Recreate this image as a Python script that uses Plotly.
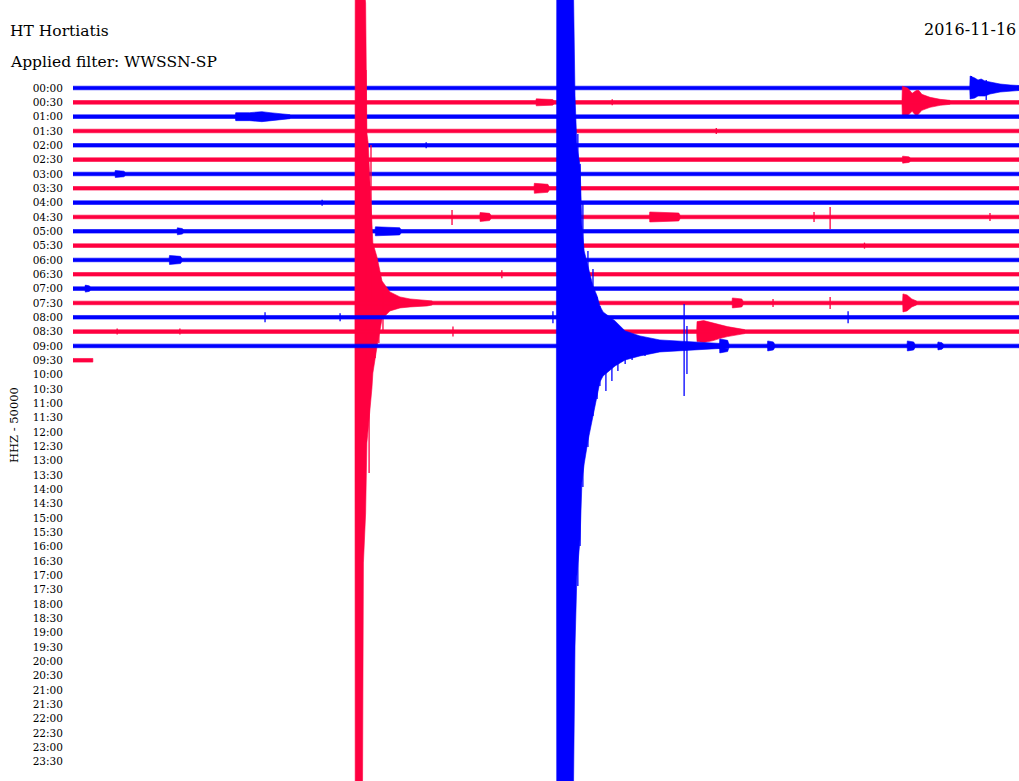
import plotly.graph_objects as go

# ---------------- data ----------------
ROW_LABELS = ["00:00", "00:30", "01:00", "01:30", "02:00", "02:30", "03:00", "03:30",
              "04:00", "04:30", "05:00", "05:30", "06:00", "06:30", "07:00", "07:30",
              "08:00", "08:30", "09:00", "09:30", "10:00", "10:30", "11:00", "11:30",
              "12:00", "12:30", "13:00", "13:30", "14:00", "14:30", "15:00", "15:30",
              "16:00", "16:30", "17:00", "17:30", "18:00", "18:30", "19:00", "19:30",
              "20:00", "20:30", "21:00", "21:30", "22:00", "22:30", "23:00", "23:30"]

# minutes of data recorded in each 30-minute line (00:00 ... 09:30)
ROW_END_MIN = [30, 30, 30, 30, 30, 30, 30, 30, 30, 30,
               30, 30, 30, 30, 30, 30, 30, 30, 30, 0.63]

# big event 1 (line 07:30): envelope time (min), upper / lower amplitude
QUAKE1_ROW = 15
QUAKE1_T = [8.94, 8.95, 9.18, 9.21, 9.28, 9.32, 9.36, 9.42, 9.48, 9.51, 9.64, 9.80,
            10.05, 10.37, 10.69, 11.23, 11.39]
QUAKE1_UP = [2, 330, 330, 320, 300, 170, 160, 120, 75, 60, 46, 22, 11, 6, 4, 3, 2]
QUAKE1_DN = [2, 500, 500, 260, 210, 140, 124, 107, 85, 70, 44, 16, 8, 5, 4, 3, 2]

# big event 2 (line 09:00)
QUAKE2_ROW = 18
QUAKE2_T = [15.33, 15.34, 15.87, 15.92, 15.98, 16.08, 16.14, 16.21, 16.33, 16.49,
            16.62, 16.71, 16.81, 17.19, 17.51, 17.98, 18.61, 19.57, 20.52, 20.80]
QUAKE2_UP = [2, 360, 360, 250, 200, 180, 120, 95, 80, 60, 50, 40, 34, 25, 15, 10, 6, 4, 2.5, 2]
QUAKE2_DN = [2, 450, 450, 300, 230, 193, 136, 118, 95, 70, 50, 36, 30, 20, 14, 10, 6, 4, 2.5, 2]

# local events with a shaped envelope: (line, times, upper, lower)
EVENT_ROWS = [0, 1, 2, 15, 17]
EVENT_T = [
    [28.44, 28.45, 28.60, 28.70, 28.80, 28.92, 29.08, 29.40, 29.72, 30.0],
    [26.29, 26.30, 26.40, 26.48, 26.61, 26.75, 26.82, 26.92, 27.18, 27.50, 27.81],
    [5.15, 5.16, 5.60, 5.99, 6.25, 6.72, 6.88],
    [26.31, 26.32, 26.45, 26.60, 26.75],
    [19.78, 19.79, 20.00, 20.30, 20.50, 20.75, 21.10, 21.30],
]
EVENT_UP = [
    [2, 12, 10, 8, 9, 7, 6, 4, 3, 2.5],
    [2, 16, 15, 14, 9, 12, 12, 8, 5, 3, 2],
    [2, 4, 4, 5, 4, 2.5, 2],
    [2, 9, 8, 4, 2],
    [2, 10, 11, 9, 7, 5, 3, 2],
]
EVENT_DN = [
    [2, 11, 10, 8, 8, 8, 6, 4, 3, 2.5],
    [2, 15, 14, 13, 9, 14, 12, 8, 5, 3, 2],
    [2, 4, 4, 5, 4, 2.5, 2],
    [2, 9, 8, 4, 2],
    [2, 10, 11, 9, 7, 5, 3, 2],
]

# small bursts: line, start (min), end (min), amplitude
BURST_ROW = [1, 5, 6, 7, 9, 9, 10, 10, 12, 14, 15, 18, 18, 18, 18]
BURST_T0 = [14.68, 26.30, 1.33, 14.62, 12.90, 18.28, 9.58, 3.30, 3.05, 0.38, 20.90, 20.50, 22.02, 26.45, 27.42]
BURST_T1 = [15.25, 26.55, 1.65, 15.10, 13.25, 19.25, 10.40, 3.50, 3.45, 0.55, 21.25, 20.80, 22.25, 26.70, 27.60]
BURST_AMP = [3.5, 3.5, 3.5, 5, 4.5, 5, 4.5, 3.5, 4.5, 3.5, 5, 7, 5, 5, 4]

# single spikes: line, time (min), up, down
SPIKE_ROW = [15, 15, 15, 15, 15, 15,
             18, 18, 18, 18, 18, 18, 18, 18, 18,
             18, 18, 18, 18, 18, 18, 18,
             9, 9, 9, 9, 13, 15, 15, 16, 16, 16, 16, 17, 17, 17, 0, 0, 1, 3, 4, 8, 11]
SPIKE_T = [9.29, 9.45, 9.39, 9.83, 9.58, 9.70,
           16.01, 16.08, 16.17, 16.33, 16.49, 16.62, 16.71, 19.38, 19.47,
           16.90, 17.09, 17.28, 17.51, 17.73, 18.14, 18.45,
           12.02, 23.50, 24.01, 29.08, 13.60, 22.20, 24.01, 15.22, 6.09, 8.47, 24.58,
           12.05, 1.40, 3.39, 28.49, 28.96, 17.10, 20.40, 11.20, 7.90, 25.10]
SPIKE_UP = [233, 158, 60, 10, 20, 15,
            212, 182, 142, 95, 77, 49, 40, 42, 20,
            28, 20, 18, 12, 10, 8, 6,
            7, 5, 10, 4, 4, 4, 6, 6, 5, 4, 6, 5, 3, 3, 12, 8, 3, 3, 3, 3, 3]
SPIKE_DN = [60, 20, 170, 30, 55, 40,
            240, 200, 141, 101, 70, 53, 40, 50, 28,
            45, 35, 25, 18, 14, 10, 7,
            8, 5, 12, 4, 4, 4, 6, 6, 5, 4, 6, 5, 3, 3, 8, 12, 3, 3, 3, 3, 3]

BLUE = "#0000ff"
RED = "#ff0040"
SCALE = 1 / 14.33      # line spacing units per amplitude unit
BASE_AMP = 1.8         # background noise half-width

# ---------------- build ----------------
def poly(row, t, up, dn):
    xs = list(t) + list(reversed(t)) + [t[0], None]
    ys = [row - u * SCALE for u in up] + [row + d * SCALE for d in reversed(dn)] + [row - up[0] * SCALE, None]
    return xs, ys

fig = go.Figure()
n_rows = len(ROW_END_MIN)
for r in range(n_rows):
    color = BLUE if r % 2 == 0 else RED
    end = ROW_END_MIN[r]
    xs, ys = poly(r, [0, end], [BASE_AMP, BASE_AMP], [BASE_AMP, BASE_AMP])
    if r == QUAKE1_ROW:
        a, b = poly(r, QUAKE1_T, QUAKE1_UP, QUAKE1_DN); xs += a; ys += b
    if r == QUAKE2_ROW:
        a, b = poly(r, QUAKE2_T, QUAKE2_UP, QUAKE2_DN); xs += a; ys += b
    for k, er in enumerate(EVENT_ROWS):
        if er == r:
            a, b = poly(r, EVENT_T[k], EVENT_UP[k], EVENT_DN[k]); xs += a; ys += b
    for k, br in enumerate(BURST_ROW):
        if br == r:
            t0, t1, amp = BURST_T0[k], BURST_T1[k], BURST_AMP[k]
            a, b = poly(r, [t0, t0 + 0.01, t1 - 0.04, t1],
                        [BASE_AMP, amp, 0.8 * amp, BASE_AMP],
                        [BASE_AMP, amp, 0.8 * amp, BASE_AMP])
            xs += a; ys += b
    fig.add_trace(go.Scatter(x=xs, y=ys, mode="lines", fill="toself", fillcolor=color,
                             line=dict(color=color, width=0.6), hoverinfo="skip"))
    sx, sy = [], []
    for k, sr in enumerate(SPIKE_ROW):
        if sr == r:
            sx += [SPIKE_T[k], SPIKE_T[k], None]
            sy += [r - SPIKE_UP[k] * SCALE, r + SPIKE_DN[k] * SCALE, None]
    if sx:
        fig.add_trace(go.Scatter(x=sx, y=sy, mode="lines", line=dict(color=color, width=1.3),
                                 hoverinfo="skip"))

W, H, L = 1019, 781, 73
def px(x):
    return (x - L) / (W - L)
def py(y):
    return 1 - y / H

fig.update_layout(
    width=W, height=H,
    margin=dict(l=L, r=0, t=0, b=0),
    paper_bgcolor="white", plot_bgcolor="white",
    showlegend=False,
    xaxis=dict(range=[0, 30], visible=False),
    yaxis=dict(range=[48.36, -6.141], tickmode="array", tickvals=list(range(len(ROW_LABELS))),
               ticktext=ROW_LABELS, showgrid=False, zeroline=False, showline=False,
               ticks="outside", ticklen=7, tickcolor="rgba(0,0,0,0)",
               tickfont=dict(family="DejaVu Serif", size=10.5, color="black")),
    annotations=[
        dict(text="HT Hortiatis", xref="paper", yref="paper", x=px(8), y=py(31),
             xanchor="left", yanchor="middle", showarrow=False,
             font=dict(family="DejaVu Serif", size=15.5, color="black")),
        dict(text="Applied filter: WWSSN-SP", xref="paper", yref="paper", x=px(8), y=py(62),
             xanchor="left", yanchor="middle", showarrow=False,
             font=dict(family="DejaVu Serif", size=15.5, color="black")),
        dict(text="2016-11-16", xref="paper", yref="paper", x=px(1018), y=py(30),
             xanchor="right", yanchor="middle", showarrow=False,
             font=dict(family="DejaVu Serif", size=16, color="black")),
        dict(text="HHZ - 50000", xref="paper", yref="paper", x=px(14), y=py(425),
             xanchor="center", yanchor="middle", showarrow=False, textangle=-90,
             font=dict(family="DejaVu Serif", size=11.5, color="black")),
    ],
)

fig.write_html("out.html", config={"displayModeBar": False},
               post_script="document.body.style.margin='0';document.body.style.overflow='hidden';")
